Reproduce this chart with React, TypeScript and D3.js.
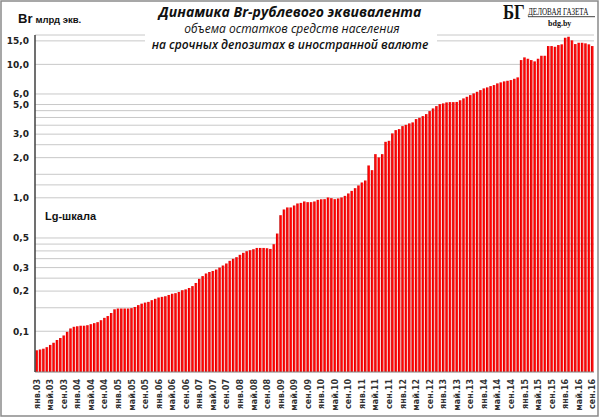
import React from "react";
import * as d3 from "d3";

const monthNames = ["янв", "фев", "мар", "апр", "май", "июн", "июл", "авг", "сен", "окт", "ноя", "дек"];
const years = ["03", "04", "05", "06", "07", "08", "09", "10", "11", "12", "13", "14", "15", "16"];

// Monthly values, bn Br-equivalent, Jan 2003 .. Sep 2016
const v2003 = [0.072, 0.073, 0.074, 0.076, 0.079, 0.082, 0.086, 0.089, 0.093, 0.099, 0.105, 0.108];
const v2004 = [0.109, 0.110, 0.110, 0.111, 0.113, 0.115, 0.117, 0.121, 0.126, 0.130, 0.137, 0.146];
const v2005 = [0.148, 0.148, 0.148, 0.148, 0.149, 0.152, 0.157, 0.161, 0.164, 0.166, 0.171, 0.175];
const v2006 = [0.179, 0.181, 0.183, 0.187, 0.191, 0.193, 0.197, 0.203, 0.206, 0.211, 0.218, 0.230];
const v2007 = [0.247, 0.259, 0.271, 0.278, 0.283, 0.290, 0.300, 0.311, 0.322, 0.337, 0.349, 0.359];
const v2008 = [0.374, 0.387, 0.398, 0.405, 0.412, 0.421, 0.421, 0.421, 0.419, 0.414, 0.449, 0.540];
const v2009 = [0.741, 0.818, 0.847, 0.847, 0.876, 0.907, 0.916, 0.939, 0.928, 0.928, 0.939, 0.965];
const v2010 = [0.975, 0.977, 1.006, 0.994, 0.977, 0.989, 1.006, 1.034, 1.078, 1.127, 1.181, 1.238];
const v2011 = [1.303, 1.349, 1.748, 1.612, 2.125, 2.008, 2.125, 2.628, 2.674, 3.038, 3.216, 3.272];
const v2012 = [3.446, 3.525, 3.611, 3.674, 3.890, 3.978, 4.096, 4.240, 4.466, 4.677, 4.867, 5.038];
const v2013 = [5.099, 5.188, 5.215, 5.215, 5.230, 5.385, 5.559, 5.715, 5.885, 6.060, 6.230, 6.416];
const v2014 = [6.607, 6.723, 6.876, 6.996, 7.204, 7.329, 7.457, 7.535, 7.627, 7.799, 7.990, 10.77];
const v2015 = [11.28, 11.02, 10.77, 10.53, 11.02, 11.60, 11.60, 13.72, 13.72, 13.55, 13.96, 14.13];
const v2016 = [15.83, 16.11, 15.14, 14.20, 14.52, 14.52, 14.37, 14.13, 13.72];

const values = [
  ...v2003, ...v2004, ...v2005, ...v2006, ...v2007, ...v2008, ...v2009,
  ...v2010, ...v2011, ...v2012, ...v2013, ...v2014, ...v2015, ...v2016,
];
const categories = values.map((_, i) => `${monthNames[i % 12]}.${years[Math.floor(i / 12)]}`);

const gridValues = [0.1, 0.15, 0.2, 0.25, 0.3, 0.35, 0.4, 0.45, 0.5, 1, 1.25, 1.5, 2, 2.5, 3, 3.5, 4, 4.5, 5, 6, 10, 15];
const tickValues = [15, 10, 6, 5, 3, 2, 1, 0.5, 0.3, 0.2, 0.1];

const titleLines = [
  "Динамика Br-рублевого эквивалента",
  "объема остатков средств населения",
  "на срочных депозитах в иностранной валюте",
];

export default function App() {
  const left = 35, right = 594, top = 35, bottom = 372;
  const x = d3.scaleBand<string>().domain(categories).range([left, right]).paddingInner(0.24).paddingOuter(0.12);
  const y = d3.scaleLog().domain([0.0495, 16.6]).range([bottom, top]);
  const fmt = (v: number) => v.toFixed(1).replace(".", ",");
  const axisFont = "'DejaVu Sans', sans-serif";

  return (
    <svg width={600} height={418} style={{ position: "absolute", left: 0, top: 0, background: "#fff" }}>
      <defs>
        <linearGradient id="barGrad" x1="0" x2="1" y1="0" y2="0">
          <stop offset="0" stopColor="#b80000" />
          <stop offset="0.4" stopColor="#ff0000" />
          <stop offset="1" stopColor="#ff2a2a" />
        </linearGradient>
      </defs>
      <rect x={0} y={0} width={600} height={418} fill="#fff" />
      <rect x={1} y={1} width={597} height={415} fill="none" stroke="#8a8a8a" strokeWidth={1.5} />

      {/* grid */}
      <line x1={left} x2={right} y1={top} y2={top} stroke="#c8c8c8" strokeWidth={1} />
      {gridValues.map((g) => (
        <line key={g} x1={left} x2={right} y1={y(g)} y2={y(g)} stroke="#c8c8c8" strokeWidth={1} />
      ))}

      {/* title box */}
      <rect x={145} y={3} width={292} height={52} fill="#fff" />
      <g fontFamily="'Open Sans', sans-serif" fontStyle="italic" textAnchor="middle" fill="#111">
        <text x={290} y={17} fontSize={14} fontWeight={700}>{titleLines[0]}</text>
        <text x={292} y={33} fontSize={12} fontWeight={400}>{titleLines[1]}</text>
        <text x={290} y={48.5} fontSize={12} fontWeight={600}>{titleLines[2]}</text>
      </g>

      {/* bars */}
      {values.map((v, i) => (
        <rect key={i} x={x(categories[i])} y={y(v)} width={x.bandwidth()} height={bottom - y(v)} fill="url(#barGrad)" />
      ))}

      {/* axes */}
      <line x1={left} x2={right} y1={bottom} y2={bottom} stroke="#808080" strokeWidth={1} />
      <line x1={left} x2={left} y1={top} y2={bottom} stroke="#404040" strokeWidth={1.5} />

      {tickValues.map((t) => (
        <text key={t} x={29} y={y(t) + 3.3} textAnchor="end" fontFamily={axisFont} fontWeight={700} fontSize={9} fill="#222">
          {fmt(t)}
        </text>
      ))}

      {categories.map((c, i) =>
        i % 4 === 0 ? (
          <text
            key={c}
            transform={`translate(${(x(c) as number) + x.bandwidth() / 2 + 3},379) rotate(-90)`}
            textAnchor="end"
            fontFamily={axisFont}
            fontWeight={700}
            fontSize={8}
            fill="#333"
          >
            {c}
          </text>
        ) : null
      )}

      {/* units */}
      <text x={18} y={22.5} fontFamily="'Liberation Sans', sans-serif" fontWeight={700} fill="#111">
        <tspan fontSize={13}>Br</tspan>
        <tspan fontSize={9.5} dx={3}>млрд экв.</tspan>
      </text>
      <text x={45} y={220} fontFamily="'Liberation Sans', sans-serif" fontWeight={700} fontSize={11} fill="#111">
        Lg-шкала
      </text>

      {/* logo */}
      <g fontFamily="'Liberation Serif', serif" fill="#111">
        <text transform="translate(503,18.5) scale(0.8,1)" fontSize={21} fontWeight={700}>БГ</text>
        <text transform="translate(528,15) scale(0.68,1)" fontSize={10.5} fontWeight={400}>ДЕЛОВАЯ ГАЗЕТА</text>
        <line x1={528} x2={595} y1={16.7} y2={16.7} stroke="#111" strokeWidth={0.8} />
        <text x={548} y={25.5} fontSize={8} fontWeight={700}>bdg.by</text>
      </g>
    </svg>
  );
}
